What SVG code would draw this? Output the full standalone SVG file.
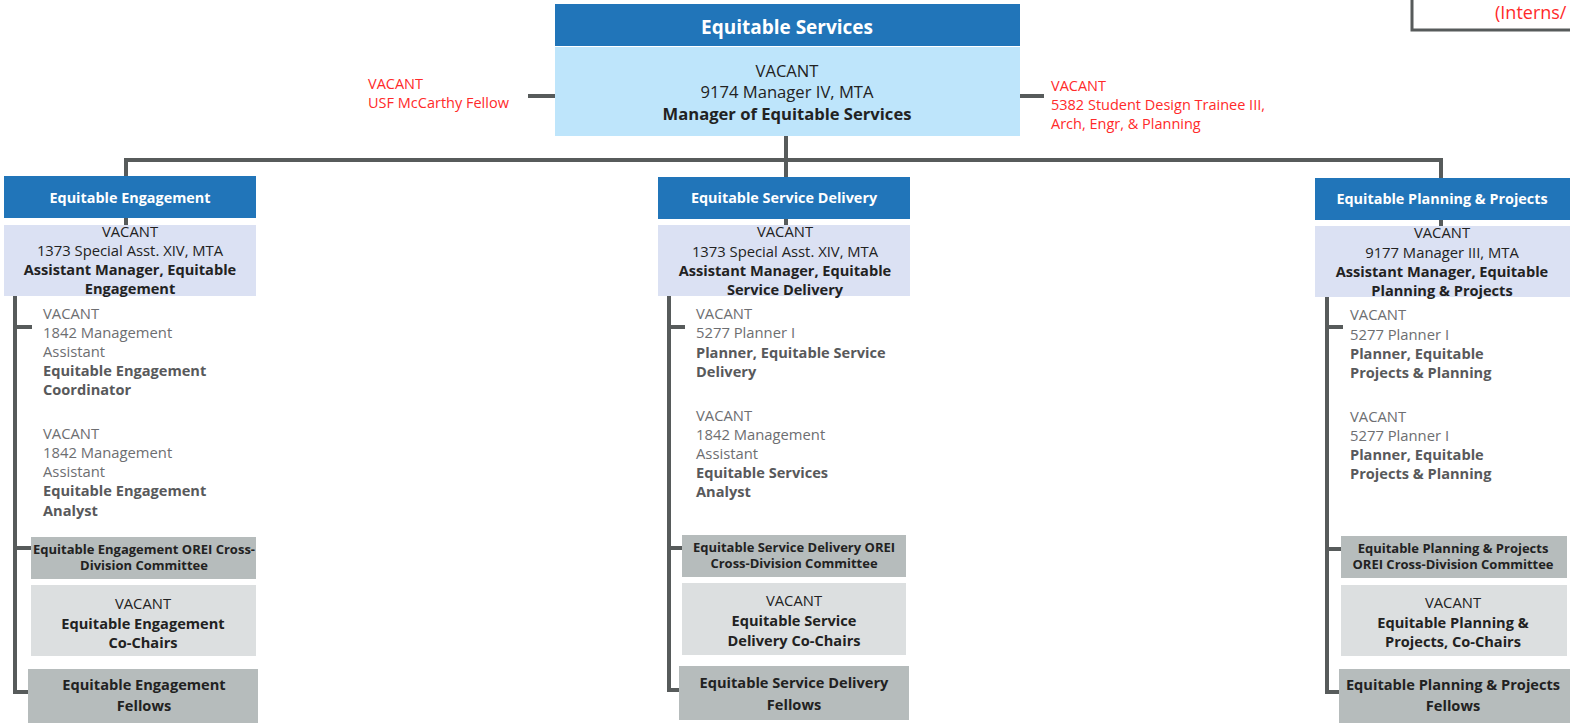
<svg xmlns="http://www.w3.org/2000/svg" width="1570" height="723" viewBox="0 0 1570 723">
<style>
text{font-family:"Open Sans","Liberation Sans",sans-serif;font-size:14.8px;}
.hd{fill:#2175b9;}
.hdt{fill:#fff;font-weight:bold;text-anchor:middle;font-size:14.4px;}
.sub{fill:#dbe1f3;}
.top{fill:#bee5fb;}
.c{text-anchor:middle;fill:#222;}
.b{font-weight:bold;font-size:14.6px;}
.g{fill:#6d6e71;}
.gb{fill:#58595b;font-weight:bold;font-size:14.6px;}
.dk{fill:#b6bcbc;}
.lt{fill:#dcdfe0;}
.red{fill:#ff2a2a;font-size:14.5px;}
.ln{fill:none;stroke:#575b5b;stroke-width:4;}
.cm{font-size:13px;font-weight:bold;text-anchor:middle;fill:#222;}
.tp{font-size:16.6px;}
</style>
<g id="connectors">
<polyline class="ln" points="126,177 126,160 1441,160 1441,178"/>
<line class="ln" x1="786" y1="136" x2="786" y2="177"/>
<line class="ln" x1="126" y1="218" x2="126" y2="225"/>
<line class="ln" x1="786" y1="219" x2="786" y2="225"/>
<line class="ln" x1="1441" y1="220" x2="1441" y2="226"/>
<line class="ln" x1="528" y1="96" x2="555" y2="96"/>
<line class="ln" x1="1020" y1="96" x2="1044" y2="96"/>
<polyline class="ln" points="15,296 15,692 28,692"/>
<line class="ln" x1="15" y1="327" x2="32" y2="327"/>
<line class="ln" x1="15" y1="548" x2="32" y2="548"/>
<polyline class="ln" points="669,296 669,690 680,690"/>
<line class="ln" x1="669" y1="327" x2="685" y2="327"/>
<line class="ln" x1="669" y1="548" x2="682" y2="548"/>
<polyline class="ln" points="1327,297 1327,692 1340,692"/>
<line class="ln" x1="1327" y1="327" x2="1343" y2="327"/>
<line class="ln" x1="1327" y1="549" x2="1342" y2="549"/>
</g>
<g id="interns">
<rect x="1412" y="-10" width="170" height="40" fill="#fff" stroke="#575b5b" stroke-width="3"/>
<text class="red" x="1495" y="19" style="font-size:18px">(Interns/</text>
</g>
<g id="equitable-services">
<rect class="hd" x="555" y="4" width="465" height="42"/>
<text class="hdt" x="787" y="34" style="font-size:19px">Equitable Services</text>
<rect class="top" x="555" y="47" width="465" height="89"/>
<text class="c tp" x="787" y="77">VACANT</text>
<text class="c tp" x="787" y="98">9174 Manager IV, MTA</text>
<text class="c b tp" x="787" y="120">Manager of Equitable Services</text>
</g>
<g id="mccarthy">
<text class="red" x="368" y="89">VACANT</text>
<text class="red" x="368" y="108">USF McCarthy Fellow</text>
</g>
<g id="trainee">
<text class="red" x="1051" y="91">VACANT</text>
<text class="red" x="1051" y="110">5382 Student Design Trainee III,</text>
<text class="red" x="1051" y="129">Arch, Engr, &amp; Planning</text>
</g>
<g id="engagement">
<rect class="hd" x="4" y="176" width="252" height="42"/>
<text class="hdt" x="130" y="203">Equitable Engagement</text>
<rect class="sub" x="4" y="225" width="252" height="71"/>
<text class="c" x="130" y="237">VACANT</text>
<text class="c" x="130" y="256">1373 Special Asst. XIV, MTA</text>
<text class="c b" x="130" y="275">Assistant Manager, Equitable</text>
<text class="c b" x="130" y="294">Engagement</text>
</g>
<g id="engagement-coordinator">
<text class="g" x="43" y="319">VACANT</text>
<text class="g" x="43" y="338">1842 Management</text>
<text class="g" x="43" y="357">Assistant</text>
<text class="gb" x="43" y="376">Equitable Engagement</text>
<text class="gb" x="43" y="395">Coordinator</text>
</g>
<g id="engagement-analyst">
<text class="g" x="43" y="439">VACANT</text>
<text class="g" x="43" y="458">1842 Management</text>
<text class="g" x="43" y="477">Assistant</text>
<text class="gb" x="43" y="496">Equitable Engagement</text>
<text class="gb" x="43" y="516">Analyst</text>
</g>
<g id="engagement-committee">
<rect class="dk" x="31" y="537" width="225" height="42"/>
<text class="cm" x="144" y="554">Equitable Engagement OREI Cross-</text>
<text class="cm" x="144" y="570">Division Committee</text>
</g>
<g id="engagement-cochairs">
<rect class="lt" x="31" y="585" width="225" height="71"/>
<text class="c" x="143" y="609">VACANT</text>
<text class="c b" x="143" y="629">Equitable Engagement</text>
<text class="c b" x="143" y="648">Co-Chairs</text>
</g>
<g id="engagement-fellows">
<rect class="dk" x="28" y="669" width="230" height="54"/>
<text class="c b" x="144" y="690">Equitable Engagement</text>
<text class="c b" x="144" y="711">Fellows</text>
</g>
<g id="service-delivery">
<rect class="hd" x="658" y="177" width="252" height="42"/>
<text class="hdt" x="784" y="203">Equitable Service Delivery</text>
<rect class="sub" x="658" y="225" width="252" height="71"/>
<text class="c" x="785" y="237">VACANT</text>
<text class="c" x="785" y="257">1373 Special Asst. XIV, MTA</text>
<text class="c b" x="785" y="276">Assistant Manager, Equitable</text>
<text class="c b" x="785" y="295">Service Delivery</text>
</g>
<g id="service-planner">
<text class="g" x="696" y="319">VACANT</text>
<text class="g" x="696" y="338">5277 Planner I</text>
<text class="gb" x="696" y="358">Planner, Equitable Service</text>
<text class="gb" x="696" y="377">Delivery</text>
</g>
<g id="service-analyst">
<text class="g" x="696" y="421">VACANT</text>
<text class="g" x="696" y="440">1842 Management</text>
<text class="g" x="696" y="459">Assistant</text>
<text class="gb" x="696" y="478">Equitable Services</text>
<text class="gb" x="696" y="497">Analyst</text>
</g>
<g id="service-committee">
<rect class="dk" x="682" y="535" width="224" height="42"/>
<text class="cm" x="794" y="552">Equitable Service Delivery OREI</text>
<text class="cm" x="794" y="568">Cross-Division Committee</text>
</g>
<g id="service-cochairs">
<rect class="lt" x="682" y="583" width="224" height="72"/>
<text class="c" x="794" y="606">VACANT</text>
<text class="c b" x="794" y="626">Equitable Service</text>
<text class="c b" x="794" y="646">Delivery Co-Chairs</text>
</g>
<g id="service-fellows">
<rect class="dk" x="679" y="666" width="230" height="54"/>
<text class="c b" x="794" y="688">Equitable Service Delivery</text>
<text class="c b" x="794" y="710">Fellows</text>
</g>
<g id="planning-projects">
<rect class="hd" x="1315" y="178" width="260" height="42"/>
<text class="hdt" x="1442" y="204">Equitable Planning &amp; Projects</text>
<rect class="sub" x="1315" y="226" width="260" height="71"/>
<text class="c" x="1442" y="238">VACANT</text>
<text class="c" x="1442" y="258">9177 Manager III, MTA</text>
<text class="c b" x="1442" y="277">Assistant Manager, Equitable</text>
<text class="c b" x="1442" y="296">Planning &amp; Projects</text>
</g>
<g id="planning-planner-1">
<text class="g" x="1350" y="320">VACANT</text>
<text class="g" x="1350" y="340">5277 Planner I</text>
<text class="gb" x="1350" y="359">Planner, Equitable</text>
<text class="gb" x="1350" y="378">Projects &amp; Planning</text>
</g>
<g id="planning-planner-2">
<text class="g" x="1350" y="422">VACANT</text>
<text class="g" x="1350" y="441">5277 Planner I</text>
<text class="gb" x="1350" y="460">Planner, Equitable</text>
<text class="gb" x="1350" y="479">Projects &amp; Planning</text>
</g>
<g id="planning-committee">
<rect class="dk" x="1341" y="536" width="226" height="42"/>
<text class="cm" x="1453" y="553">Equitable Planning &amp; Projects</text>
<text class="cm" x="1453" y="569">OREI Cross-Division Committee</text>
</g>
<g id="planning-cochairs">
<rect class="lt" x="1341" y="585" width="226" height="71"/>
<text class="c" x="1453" y="608">VACANT</text>
<text class="c b" x="1453" y="628">Equitable Planning &amp;</text>
<text class="c b" x="1453" y="647">Projects, Co-Chairs</text>
</g>
<g id="planning-fellows">
<rect class="dk" x="1339" y="669" width="235" height="54"/>
<text class="c b" x="1453" y="690">Equitable Planning &amp; Projects</text>
<text class="c b" x="1453" y="711">Fellows</text>
</g>
</svg>
